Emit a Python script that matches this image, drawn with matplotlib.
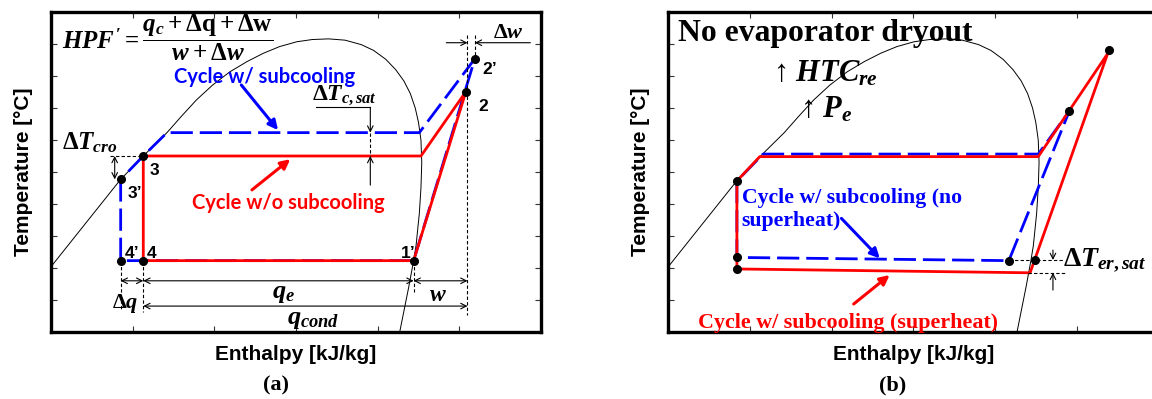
import matplotlib.pyplot as plt

plt.rcParams['font.family'] = ['Liberation Sans', 'DejaVu Sans']
plt.rcParams['mathtext.fontset'] = 'custom'
plt.rcParams['mathtext.rm'] = 'Liberation Serif:bold'
plt.rcParams['mathtext.it'] = 'Liberation Serif:italic:bold'
plt.rcParams['mathtext.bf'] = 'Liberation Serif:bold'

# saturation dome (enthalpy, temperature), arbitrary units
dome_h = [0.00, 0.853, 1.13, 1.42, 1.60, 1.78, 1.98, 2.19, 2.40, 2.60, 2.80, 3.01, 3.20,
          3.40, 3.60, 3.80, 3.95, 4.10, 4.22, 4.32, 4.40, 4.46, 4.50, 4.53, 4.54, 4.53,
          4.51, 4.47, 4.44, 4.38, 4.27]
dome_T = [2.04, 4.77, 5.50, 6.23, 6.75, 7.25, 7.72, 8.13, 8.45, 8.71, 8.92, 9.07, 9.14,
          9.16, 9.12, 8.98, 8.80, 8.52, 8.20, 7.85, 7.45, 7.00, 6.55, 6.00, 5.30, 4.50,
          3.70, 2.70, 2.23, 1.40, 0.00]

# panel (a)
a_red_h = [1.13, 1.13, 4.44, 5.08, 4.53, 1.13]
a_red_T = [5.50, 2.23, 2.23, 7.51, 5.50, 5.50]
a_blue_h = [0.853, 0.853, 4.44, 5.19, 4.51, 1.42, 1.13, 0.853]
a_blue_T = [4.77, 2.23, 2.23, 8.54, 6.23, 6.23, 5.50, 4.77]
a_pts_h = [0.853, 1.13, 0.853, 1.13, 4.44, 5.08, 5.19]
a_pts_T = [4.77, 5.50, 2.23, 2.23, 2.23, 7.51, 8.54]
a_pt_labels = ['3’', '3', '4’', '4', '1’', '2', '2’']
a_lab_h = [1.03, 1.27, 0.99, 1.23, 4.37, 5.29, 5.37]
a_lab_T = [4.34, 5.06, 2.44, 2.44, 2.44, 7.06, 8.20]

# panel (b)
b_red_h = [0.84, 0.84, 4.43, 5.38, 4.53, 1.12, 0.84]
b_red_T = [4.72, 1.97, 1.85, 8.70, 5.48, 5.48, 4.72]
b_blue_h = [0.84, 0.84, 4.17, 4.91, 4.53, 1.16, 0.84]
b_blue_T = [4.72, 2.33, 2.23, 6.90, 5.56, 5.56, 4.72]
b_pts_h = [0.84, 0.84, 0.84, 4.17, 4.49, 4.91, 5.40]
b_pts_T = [4.72, 2.33, 1.97, 2.23, 2.25, 6.90, 8.81]

RED = '#ff0000'
BLUE = '#0000ff'
SERIF = ['Liberation Serif', 'DejaVu Serif']
LATO = ['Lato', 'DejaVu Sans']

fig = plt.figure(figsize=(11.52, 3.99), dpi=100)
ax_a = fig.add_axes([51 / 1152, 67 / 399, 490 / 1152, 320 / 399])
ax_b = fig.add_axes([668.3 / 1152, 67 / 399, 490 / 1152, 320 / 399])


def setup(ax):
    ax.set_xlim(0, 6)
    ax.set_ylim(0, 10)
    ax.set_xticks([1, 2, 3, 4, 5])
    ax.set_yticks([1, 2, 3, 4, 5, 6, 7, 8, 9])
    ax.tick_params(direction='in', length=4, width=0.8, top=True, right=True,
                   labelbottom=False, labelleft=False, color='#333333')
    for s in ax.spines.values():
        s.set_linewidth(2.4)
    ax.set_xlabel('Enthalpy [kJ/kg]', fontsize=15, fontweight='bold', labelpad=9)
    ax.set_ylabel('Temperature [°C]', fontsize=15, fontweight='bold', labelpad=13)
    ax.plot(dome_h, dome_T, color='black', lw=0.7)


def guide(ax, x, y):
    ax.plot(x, y, color='black', lw=0.8, ls=(0, (3, 2)))


def dim(ax, x0, y0, x1, y1, style='<->'):
    ax.annotate('', xy=(x1, y1), xytext=(x0, y0),
                arrowprops=dict(arrowstyle=style, color='black', lw=0.8,
                                shrinkA=0, shrinkB=0, mutation_scale=10))


def pointer(ax, x0, y0, x1, y1, color):
    ax.annotate('', xy=(x1, y1), xytext=(x0, y0),
                arrowprops=dict(arrowstyle='-|>', color=color, lw=2.2,
                                shrinkA=0, shrinkB=0, mutation_scale=14))


# ---------- (a) ----------
setup(ax_a)
ax_a.plot(a_blue_h, a_blue_T, color=BLUE, lw=2, ls=(0, (8, 2.5)))
ax_a.plot(a_red_h, a_red_T, color=RED, lw=2)
ax_a.plot(a_pts_h, a_pts_T, 'o', color='black', ms=5.5)
for t, x, y in zip(a_pt_labels, a_lab_h, a_lab_T):
    ax_a.text(x, y, t, fontsize=12.5, fontweight='bold', ha='center', va='center')

ax_a.text(0.13, 9.2, r"$HPF' = \dfrac{q_c + \Delta\mathrm{q} + \Delta\mathrm{w}}{w + \Delta w}$",
          fontsize=18, ha='left', va='center')
ax_a.text(2.61, 7.97, 'Cycle w/ subcooling', color=BLUE, fontsize=14.5, fontweight='bold',
          family=LATO, ha='center', va='center')
ax_a.text(2.91, 4.02, 'Cycle w/o subcooling', color=RED, fontsize=14.5, fontweight='bold',
          family=LATO, ha='center', va='center')
pointer(ax_a, 2.33, 7.72, 2.78, 6.31, BLUE)
pointer(ax_a, 2.46, 4.44, 2.93, 5.40, RED)

# delta T_c,sat
ax_a.text(3.59, 7.4, r'$\Delta T_{c,sat}$', fontsize=17, ha='center', va='center')
ax_a.plot([3.25, 3.91], [7.02, 7.02], color='black', lw=0.8)
dim(ax_a, 3.91, 7.02, 3.91, 6.23, '->')
guide(ax_a, [3.91, 3.91], [6.23, 5.50])
dim(ax_a, 3.91, 4.59, 3.91, 5.50, '->')

# delta T_cro
ax_a.text(0.48, 5.9, r'$\Delta T_{cro}$', fontsize=18, ha='center', va='center')
guide(ax_a, [0.72, 1.11], [5.50, 5.50])
dim(ax_a, 0.78, 5.50, 0.78, 4.77)

# bottom dimensions
guide(ax_a, [0.853, 0.853], [2.23, 0.69])
guide(ax_a, [1.13, 1.13], [2.23, 0.63])
guide(ax_a, [4.44, 4.44], [2.23, 1.26])
guide(ax_a, [5.10, 5.10], [9.28, 0.53])
guide(ax_a, [5.19, 5.19], [9.28, 8.54])
dim(ax_a, 0.853, 1.6, 1.13, 1.6)
dim(ax_a, 1.13, 1.6, 4.44, 1.6)
dim(ax_a, 4.44, 1.6, 5.10, 1.6)
dim(ax_a, 1.13, 0.81, 5.10, 0.81)
dim(ax_a, 4.84, 9.04, 5.10, 9.04, '->')
dim(ax_a, 5.87, 9.04, 5.19, 9.04, '->')
ax_a.text(5.6, 9.35, r'$\Delta w$', fontsize=16, ha='center', va='center')
ax_a.text(0.91, 0.9, r'$\Delta q$', fontsize=16, ha='center', va='center')
ax_a.text(2.85, 1.22, r'$q_e$', fontsize=19, ha='center', va='center')
ax_a.text(4.74, 1.17, r'$w$', fontsize=17, ha='center', va='center')
ax_a.text(3.21, 0.40, r'$q_{cond}$', fontsize=19, ha='center', va='center')

# ---------- (b) ----------
setup(ax_b)
ax_b.plot(b_blue_h, b_blue_T, color=BLUE, lw=2, ls=(0, (8, 2.5)))
ax_b.plot(b_red_h, b_red_T, color=RED, lw=2)
ax_b.plot(b_pts_h, b_pts_T, 'o', color='black', ms=5.5)

ax_b.text(0.12, 9.34, 'No evaporator dryout', fontsize=22.8, fontweight='bold',
          family=SERIF, ha='left', va='center')
ax_b.text(1.93, 8.08, r'↑ $HTC_{re}$', fontsize=22, family=SERIF, ha='center', va='center')
ax_b.text(1.94, 6.95, r'↑ $P_e$', fontsize=22, family=SERIF, ha='center', va='center')
ax_b.text(0.9, 3.82, 'Cycle w/ subcooling (no\nsuperheat)', color=BLUE, fontsize=15.7,
          fontweight='bold', family=SERIF, ha='left', va='center', linespacing=1.2)
ax_b.text(2.2, 0.29, 'Cycle w/ subcooling (superheat)', color=RED, fontsize=15.8,
          fontweight='bold', family=SERIF, ha='center', va='center')
pointer(ax_b, 2.12, 3.55, 2.59, 2.30, BLUE)
pointer(ax_b, 2.27, 0.875, 2.71, 1.78, RED)

ax_b.text(4.83, 2.25, r'$\Delta T_{er,sat}$', fontsize=20, ha='left', va='center')
guide(ax_b, [4.17, 4.83], [2.25, 2.25])
guide(ax_b, [4.41, 4.86], [1.85, 1.85])
dim(ax_b, 4.71, 2.56, 4.71, 2.25, '->')
dim(ax_b, 4.71, 1.31, 4.71, 1.85, '->')

fig.text(275.5 / 1152, 1 - 385 / 399, '(a)', fontsize=16, fontweight='bold',
         family=SERIF, ha='center', va='center')
fig.text(893 / 1152, 1 - 385 / 399, '(b)', fontsize=16, fontweight='bold',
         family=SERIF, ha='center', va='center')

fig.savefig('out.png', dpi=100)
